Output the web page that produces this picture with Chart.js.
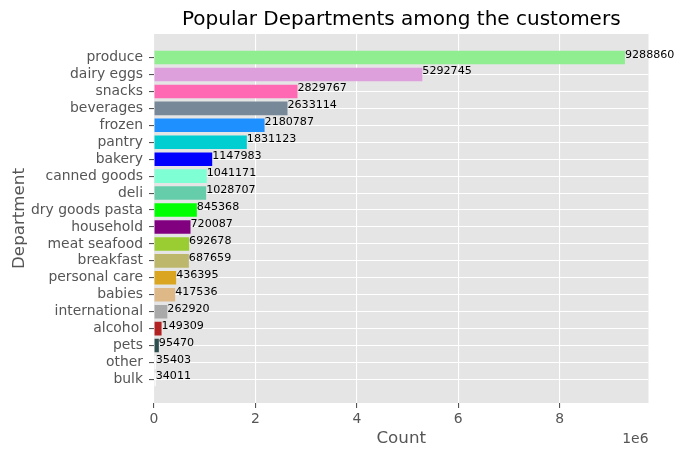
<!DOCTYPE html>
<html>
<head>
<meta charset="utf-8">
<title>Popular Departments</title>
<script src="https://cdn.jsdelivr.net/npm/chart.js@4"></script>
<style>
  html, body { margin: 0; padding: 0; background: #fff; }
  canvas { display: block; }
</style>
</head>
<body>
<canvas id="deptChart" width="684" height="457"></canvas>
<script>
// listed bottom to top, same order the bars go up the axis
const departments = ["bulk", "other", "pets", "alcohol", "international", "babies", "personal care",
    "breakfast", "meat seafood", "household", "dry goods pasta", "deli", "canned goods", "bakery",
    "pantry", "frozen", "beverages", "snacks", "dairy eggs", "produce"];
const counts = [34011, 35403, 95470, 149309, 262920, 417536, 436395, 687659, 692678, 720087,
    845368, 1028707, 1041171, 1147983, 1831123, 2180787, 2633114, 2829767, 5292745, 9288860];
const barColors = ["#ffffff", "#ffffff", "#2f4f4f", "#b22222", "#a9a9a9", "#deb887", "#daa520",
    "#bdb76b", "#9acd32", "#800080", "#00ff00", "#66cdaa", "#7fffd4", "#0000ff",
    "#00ced1", "#1e90ff", "#778899", "#ff69b4", "#dda0dd", "#90ee90"];
const xTicks = [0, 2000000, 4000000, 6000000, 8000000];

const FONT = "'DejaVu Sans'";
const GREY = "#555555";

// grey panel behind the grid, ggplot look
const panelBg = {
    id: "panelBg",
    beforeDraw(chart) {
        const a = chart.chartArea;
        chart.ctx.save();
        chart.ctx.fillStyle = "#e5e5e5";
        chart.ctx.fillRect(a.left, a.top, a.width, a.height);
        chart.ctx.restore();
    }
};

// count next to each bar + the 1e6 offset text
const barText = {
    id: "barText",
    afterDatasetsDraw(chart) {
        const ctx = chart.ctx, sx = chart.scales.x, sy = chart.scales.y;
        ctx.save();
        ctx.fillStyle = "#000";
        ctx.font = "11.1px " + FONT;
        ctx.textAlign = "left";
        ctx.textBaseline = "alphabetic";
        counts.forEach((c, i) => {
            ctx.fillText(String(c), sx.getPixelForValue(c), sy.getPixelForValue(i));
        });
        ctx.fillStyle = GREY;
        ctx.font = "13.9px " + FONT;
        ctx.textAlign = "right";
        ctx.fillText("1e6", chart.chartArea.right, 442.5);
        ctx.restore();
    }
};

new Chart(document.getElementById("deptChart"), {
    type: "bar",
    data: {
        datasets: [{
            data: counts.map((c, i) => ({ x: c, y: i })),
            backgroundColor: barColors,
            barPercentage: 0.8,
            categoryPercentage: 1
        }]
    },
    options: {
        indexAxis: "y",
        responsive: false,
        animation: false,
        devicePixelRatio: 1,
        layout: { padding: { right: 35.5 } },
        plugins: {
            legend: { display: false },
            tooltip: { enabled: false },
            title: {
                display: true,
                text: "Popular Departments among the customers",
                color: "#000",
                fullSize: false,
                font: { family: FONT, size: 20, weight: "normal" },
                padding: { top: 8, bottom: 2 }
            }
        },
        scales: {
            x: {
                type: "linear",
                min: 0,
                max: 9753303,
                afterBuildTicks(s) { s.ticks = xTicks.map(v => ({ value: v })); },
                afterFit(s) { s.height = 54; },
                border: { display: false },
                grid: { color: "#fff", lineWidth: 1.1, tickColor: GREY, tickLength: 5 },
                ticks: {
                    color: GREY, padding: 3, maxRotation: 0,
                    font: { family: FONT, size: 13.9 },
                    callback: v => v / 1000000
                },
                title: { display: true, text: "Count", color: GREY, font: { family: FONT, size: 16.7 }, padding: { top: 0, bottom: 8 } }
            },
            y: {
                type: "linear",
                offset: false,
                min: -1.39,
                max: 20.39,
                afterBuildTicks(s) { s.ticks = departments.map((d, i) => ({ value: i })); },
                afterFit(s) { s.width = 154; },
                border: { display: false },
                grid: { offset: false, color: "#fff", lineWidth: 1.1, tickColor: GREY, tickLength: 5 },
                ticks: {
                    color: GREY, padding: 6, autoSkip: false,
                    font: { family: FONT, size: 13.9 },
                    callback: v => departments[v]
                },
                title: { display: true, text: "Department", color: GREY, font: { family: FONT, size: 16.7 }, padding: { top: 10, bottom: 0 } }
            }
        }
    },
    plugins: [panelBg, barText]
});
</script>
</body>
</html>
